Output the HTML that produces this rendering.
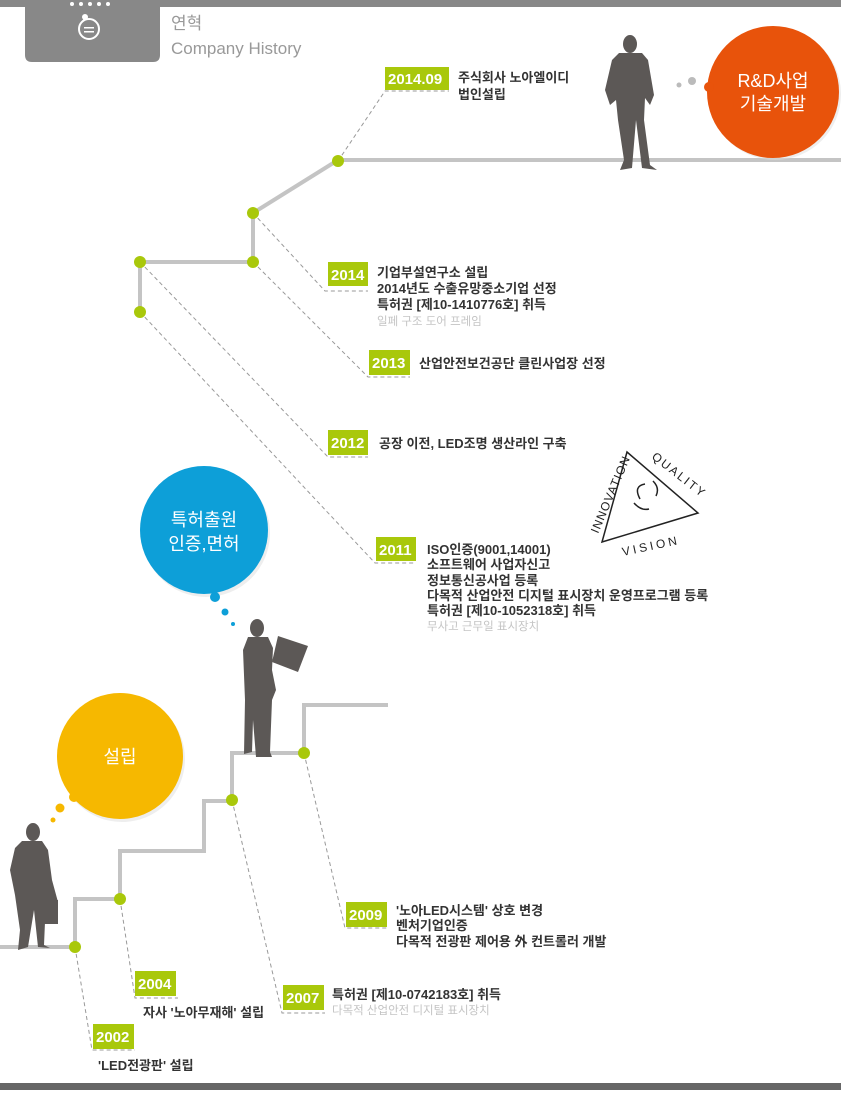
<!DOCTYPE html>
<html><head><meta charset="utf-8"><style>
body{margin:0;width:841px;height:1090px;overflow:hidden;background:#fff}
svg text{font-family:"Liberation Sans","Noto Sans CJK KR",sans-serif}
.t{font-size:13px;fill:#333;font-weight:bold}
.g{font-size:11.5px;fill:#c4c4c4}
.y{font-size:15px;fill:#fff;font-weight:bold}
</style></head><body>
<svg width="841" height="1090" viewBox="0 0 841 1090">
<rect x="0" y="0" width="841" height="7" fill="#888"/>
<path d="M25 0H160V55Q160 62 153 62H32Q25 62 25 55Z" fill="#888"/>
<g fill="#fff"><circle cx="72" cy="4" r="2"/><circle cx="81" cy="4" r="2"/><circle cx="90" cy="4" r="2"/><circle cx="99" cy="4" r="2"/><circle cx="108" cy="4" r="2"/></g>
<circle cx="89" cy="29" r="10" fill="none" stroke="#fff" stroke-width="2"/><circle cx="85" cy="17" r="3" fill="#fff"/>
<rect x="84" y="27" width="10" height="1.5" fill="#fff"/><rect x="84" y="31" width="10" height="1.5" fill="#fff"/>
<text x="171" y="29" font-size="17" fill="#999">연혁</text>
<text x="171" y="54" font-size="17" fill="#999">Company History</text>

<g fill="none" stroke="#c4c4c4" stroke-width="4">
<path d="M841 160H338L253 213V262H140V312"/>
<path d="M0 947H75V899H120V851H204V801H232V753H304V705H388"/>
</g>
<g fill="none" stroke="#999" stroke-width="1" stroke-dasharray="4 3">
<path d="M338 161L385 91H449"/>
<path d="M253 213L325 291H368"/>
<path d="M253 262L368 377H410"/>
<path d="M140 262L328 457H368"/>
<path d="M140 312L375 563H416"/>
<path d="M75 947L92 1050H135"/>
<path d="M120 899L135 998H178"/>
<path d="M232 800L282 1013H325"/>
<path d="M304 753L345 928H388"/>
</g>
<g fill="#a9c80b">
<circle cx="338" cy="161" r="6"/><circle cx="253" cy="213" r="6"/><circle cx="253" cy="262" r="6"/><circle cx="140" cy="262" r="6"/><circle cx="140" cy="312" r="6"/>
<circle cx="75" cy="947" r="6"/><circle cx="120" cy="899" r="6"/><circle cx="232" cy="800" r="6"/><circle cx="304" cy="753" r="6"/>
<rect x="385" y="67" width="64" height="23"/>
<rect x="328" y="262" width="40" height="24"/>
<rect x="369" y="350" width="41" height="25"/>
<rect x="328" y="430" width="40" height="25"/>
<rect x="376" y="537" width="40" height="24"/>
<rect x="93" y="1024" width="41" height="25"/>
<rect x="135" y="971" width="41" height="25"/>
<rect x="283" y="985" width="41" height="25"/>
<rect x="346" y="902" width="41" height="25"/>
</g>
<text class="y" x="388" y="84">2014.09</text>
<text class="y" x="331" y="280">2014</text>
<text class="y" x="372" y="368">2013</text>
<text class="y" x="331" y="448">2012</text>
<text class="y" x="379" y="555">2011</text>
<text class="y" x="96" y="1042">2002</text>
<text class="y" x="138" y="989">2004</text>
<text class="y" x="286" y="1003">2007</text>
<text class="y" x="349" y="920">2009</text>

<text class="t" x="458" y="82">주식회사 노아엘이디</text>
<text class="t" x="458" y="99">법인설립</text>
<text class="t" x="377" y="277">기업부설연구소 설립</text>
<text class="t" x="377" y="293">2014년도 수출유망중소기업 선정</text>
<text class="t" x="377" y="309">특허권 [제10-1410776호] 취득</text>
<text class="g" x="377" y="325">일페 구조 도어 프레임</text>
<text class="t" x="419" y="368">산업안전보건공단 클린사업장 선정</text>
<text class="t" x="379" y="448">공장 이전, LED조명 생산라인 구축</text>
<text class="t" x="427" y="554">ISO인증(9001,14001)</text>
<text class="t" x="427" y="569">소프트웨어 사업자신고</text>
<text class="t" x="427" y="585">정보통신공사업 등록</text>
<text class="t" x="427" y="600">다목적 산업안전 디지털 표시장치 운영프로그램 등록</text>
<text class="t" x="427" y="615">특허권 [제10-1052318호] 취득</text>
<text class="g" x="427" y="630">무사고 근무일 표시장치</text>
<text class="t" x="396" y="915">'노아LED시스템' 상호 변경</text>
<text class="t" x="396" y="930">벤처기업인증</text>
<text class="t" x="396" y="946">다목적 전광판 제어용 外 컨트롤러 개발</text>
<text class="t" x="332" y="999">특허권 [제10-0742183호] 취득</text>
<text class="g" x="332" y="1014">다목적 산업안전 디지털 표시장치</text>
<text class="t" x="143" y="1017">자사 '노아무재해' 설립</text>
<text class="t" x="98" y="1070">'LED전광판' 설립</text>

<circle cx="775" cy="94" r="66" fill="#ddd" opacity=".5"/>
<circle cx="773" cy="92" r="66" fill="#e8530b"/>
<circle cx="709" cy="87" r="5" fill="#e8530b"/>
<circle cx="692" cy="81" r="4" fill="#bbb"/><circle cx="679" cy="85" r="2.5" fill="#bbb"/>
<text x="773" y="87" font-size="18" fill="#fff" text-anchor="middle">R&amp;D사업</text>
<text x="773" y="110" font-size="18" fill="#fff" text-anchor="middle">기술개발</text>

<circle cx="206" cy="533" r="64" fill="#ddd" opacity=".5"/>
<circle cx="204" cy="530" r="64" fill="#0d9fd8"/>
<circle cx="215" cy="597" r="5" fill="#0d9fd8"/><circle cx="225" cy="612" r="3.5" fill="#0d9fd8"/><circle cx="233" cy="624" r="2" fill="#0d9fd8"/>
<text x="204" y="526" font-size="18" fill="#fff" text-anchor="middle">특허출원</text>
<text x="204" y="550" font-size="18" fill="#fff" text-anchor="middle">인증,면허</text>

<circle cx="122" cy="759" r="63" fill="#ddd" opacity=".5"/>
<circle cx="120" cy="756" r="63" fill="#f6b800"/>
<circle cx="74" cy="797" r="5" fill="#f6b800"/>
<circle cx="60" cy="808" r="4.5" fill="#f6b800"/><circle cx="53" cy="820" r="2.5" fill="#f6b800"/>
<text x="120" y="763" font-size="18" fill="#fff" text-anchor="middle">설립</text>

<g fill="#5c5856">
<ellipse cx="630" cy="44" rx="7" ry="9"/>
<path d="M619 53H642L648 60L654 95L650 105L645 98L644 120L650 165L657 170L642 168L636 120L632 168L620 170L624 160L618 120L616 100L610 105L605 90L612 60Z"/>
<ellipse cx="257" cy="628" rx="7" ry="9"/>
<path d="M248 637H268L273 648L272 670L276 690L272 700L270 752L272 757L256 757L253 720L252 752L244 754L245 700L243 650Z"/>
<path d="M278 636L308 646L298 672L272 662Z"/>
<ellipse cx="33" cy="832" rx="7" ry="9"/>
<path d="M22 841H42L48 850L52 880L58 902L52 922L45 922L44 945L50 948L38 947L34 910L28 947L18 950L20 930L15 895L10 870L15 848Z"/>
<rect x="44" y="900" width="14" height="24"/>
</g>

<g fill="none" stroke="#222" stroke-width="1.5">
<path d="M627 452L698 513L602 542Z"/>
<path d="M640 499Q633 486 645 484M653 481Q660 488 656 496M649 509Q641 511 634 503"/>
</g>
<text x="0" y="0" font-size="12" letter-spacing="1" fill="#222" transform="translate(598 534) rotate(-67)">INNOVATION</text>
<text x="0" y="0" font-size="12" letter-spacing="2" fill="#222" transform="translate(651 458) rotate(38)">QUALITY</text>
<text x="0" y="0" font-size="12" letter-spacing="3" fill="#222" transform="translate(623 556) rotate(-12)">VISION</text>

<rect x="0" y="1083" width="841" height="7" fill="#666"/>
</svg>
</body></html>
